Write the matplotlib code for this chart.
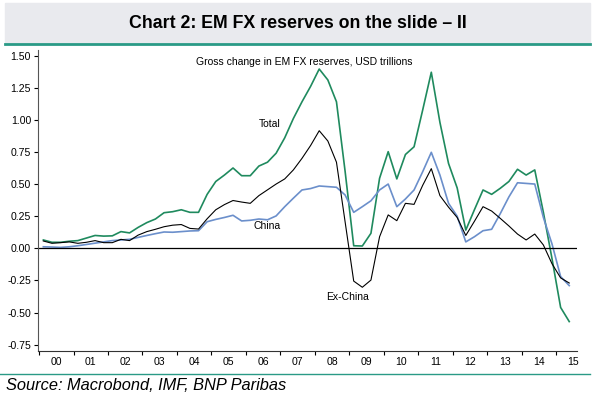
import matplotlib
matplotlib.use('Agg')
import matplotlib.pyplot as plt
import pandas as pd
from matplotlib import font_manager

# quarterly, 2000Q1 .. 2015Q2
quarters = pd.period_range('2000Q1', '2015Q2', freq='Q')

total = [0.065, 0.047, 0.047, 0.055, 0.06, 0.08, 0.10, 0.095, 0.097, 0.13,
         0.12, 0.163, 0.20, 0.228, 0.277, 0.285, 0.30, 0.28, 0.28, 0.42,
         0.52, 0.57, 0.625, 0.565, 0.565, 0.64, 0.67, 0.74, 0.86, 1.01,
         1.14, 1.26, 1.395, 1.31, 1.14, 0.60, 0.02, 0.018, 0.117, 0.545,
         0.752, 0.54, 0.73, 0.79, 1.076, 1.37, 0.98, 0.66, 0.47, 0.142,
         0.30, 0.454, 0.42, 0.467, 0.52, 0.615, 0.57, 0.61, 0.28, -0.08,
         -0.46, -0.57]

ex_china = [0.057, 0.039, 0.044, 0.05, 0.039, 0.047, 0.06, 0.044, 0.044, 0.07,
            0.06, 0.103, 0.13, 0.148, 0.168, 0.18, 0.185, 0.155, 0.15, 0.23,
            0.30, 0.34, 0.372, 0.36, 0.35, 0.41, 0.455, 0.50, 0.54, 0.61,
            0.70, 0.80, 0.915, 0.835, 0.67, 0.207, -0.255, -0.303, -0.247, 0.09,
            0.26, 0.215, 0.35, 0.342, 0.49, 0.62, 0.41, 0.32, 0.24, 0.10,
            0.21, 0.324, 0.29, 0.233, 0.174, 0.111, 0.065, 0.111, 0.026, -0.12,
            -0.23, -0.27]

china = [0.012, 0.01, 0.007, 0.012, 0.02, 0.03, 0.04, 0.05, 0.06, 0.065,
         0.07, 0.085, 0.10, 0.114, 0.127, 0.125, 0.13, 0.135, 0.137, 0.207,
         0.225, 0.24, 0.257, 0.213, 0.218, 0.228, 0.222, 0.252, 0.324, 0.39,
         0.454, 0.465, 0.485, 0.48, 0.475, 0.415, 0.28, 0.324, 0.37, 0.454,
         0.50, 0.324, 0.384, 0.454, 0.596, 0.747, 0.57, 0.35, 0.25, 0.05,
         0.09, 0.137, 0.148, 0.27, 0.40, 0.51, 0.505, 0.50, 0.24, 0.034,
         -0.22, -0.29]

years = list(range(2000, 2016))
year_labels = ['00', '01', '02', '03', '04', '05', '06', '07', '08', '09',
               '10', '11', '12', '13', '14', '15']
yticks = [-0.75, -0.5, -0.25, 0.0, 0.25, 0.5, 0.75, 1.0, 1.25, 1.5]

names = [f.name for f in font_manager.fontManager.ttflist]
plt.rcParams['font.family'] = ['Liberation Sans', 'DejaVu Sans']
if 'Liberation Sans Narrow' in names:
    title_font, title_size = 'Liberation Sans Narrow', 14
else:
    title_font, title_size = 'Liberation Sans', 12.8

x = [q.year + (q.quarter - 1) * 0.25 + 0.125 for q in quarters]

green = '#1f8a5e'
blue = '#6b8fcb'
teal = '#2a9a86'

fig = plt.figure(figsize=(5.93, 3.95), dpi=100)

# title bar
fig.patches.append(plt.Rectangle((5 / 593, 1 - 43 / 395), 585 / 593, 40 / 395,
                                 transform=fig.transFigure, color='#e9eaee', zorder=0))
fig.add_artist(plt.Line2D([5 / 593, 590 / 593], [1 - 44 / 395, 1 - 44 / 395],
                          transform=fig.transFigure, color=teal, lw=2))
fig.add_artist(plt.Line2D([0, 590 / 593], [1 - 374 / 395, 1 - 374 / 395],
                          transform=fig.transFigure, color=teal, lw=1))
fig.text(298 / 593, 1 - 23 / 395, 'Chart 2: EM FX reserves on the slide \u2013 II',
         ha='center', va='center', fontsize=title_size, fontweight='bold', family=title_font)
fig.text(6 / 593, 1 - 385 / 395, 'Source: Macrobond, IMF, BNP Paribas',
         ha='left', va='center', fontsize=11.8, style='italic')

ax = fig.add_axes([38 / 593, 1 - 350.5 / 395, 539 / 593, 300.5 / 395])
ax.plot(x, total, color=green, lw=1.2)
ax.plot(x, china, color=blue, lw=1.2)
ax.plot(x, ex_china, color='black', lw=0.8)
ax.axhline(0, color='black', lw=0.9)

ax.set_xlim(1999.97, 2015.6)
ax.set_ylim(-0.795, 1.543)

ax.set_yticks(yticks)
ax.set_yticklabels([f'{v:.2f}' for v in yticks], fontsize=7.6)
ax.set_xticks(years)
ax.set_xticklabels([])
ax.set_xticks([y + 0.5 for y in years], minor=True)
ax.set_xticklabels(year_labels, minor=True, fontsize=7.6)
ax.tick_params(axis='x', which='major', direction='out', length=3, width=0.8)
ax.tick_params(axis='x', which='minor', length=0, pad=5)
ax.tick_params(axis='y', direction='out', length=3, width=0.8, pad=2)

for s in ['top', 'right']:
    ax.spines[s].set_visible(False)
ax.spines['left'].set_color('#555555')
ax.spines['bottom'].set_color('#333333')

ax.text(2007.70, 1.45, 'Gross change in EM FX reserves, USD trillions',
        ha='center', va='center', fontsize=7.5)
ax.text(2006.70, 0.97, 'Total', ha='center', va='center', fontsize=7.5)
ax.text(2006.62, 0.174, 'China', ha='center', va='center', fontsize=7.5)
ax.text(2008.95, -0.377, 'Ex-China', ha='center', va='center', fontsize=7.5)

plt.savefig('out.png', dpi=100)
